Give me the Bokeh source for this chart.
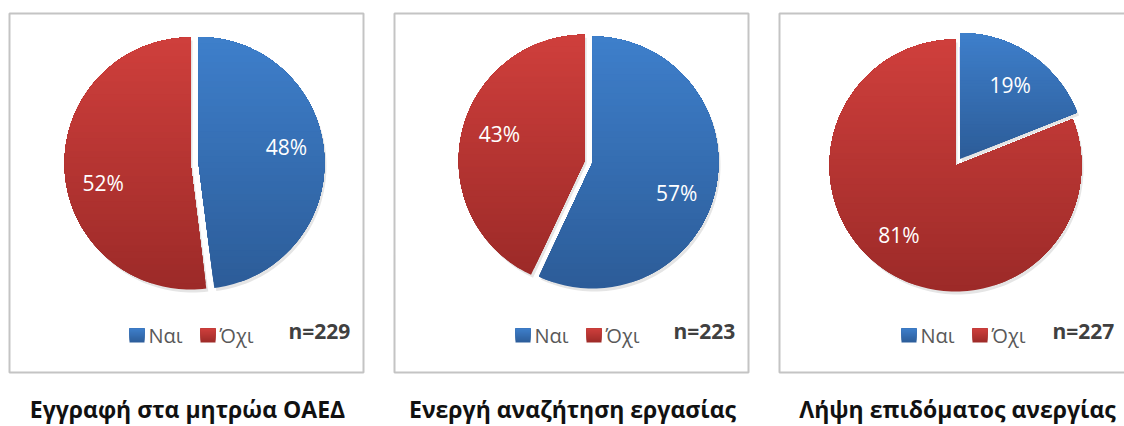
import math
from bokeh.plotting import figure
from bokeh.models import Range1d
from bokeh.core.properties import value
from bokeh.embed import file_html
from bokeh.resources import INLINE

# ---------------- data ----------------
titles = ["Εγγραφή στα μητρώα ΟΑΕΔ", "Ενεργή αναζήτηση εργασίας", "Λήψη επιδόματος ανεργίας"]
categories = ["Ναι", "Όχι"]
yes_pct = [48, 57, 19]
no_pct = [52, 43, 81]
n_values = [229, 223, 227]

# ---------------- layout / style ----------------
W, H = 1124, 426
OX, OY = 0, 426          # screen -> data conversion
def X(sx): return sx - OX
def Y(sy): return OY - sy

FONT = value("Open Sans")
top_cols = [(62, 127, 203), (207, 63, 60)]
bot_cols = [(44, 92, 152), (156, 42, 40)]
panels = [
    dict(left=8, cx=190, cy=163, explode=0, leg=129, nx=288, turn=[-7, -9]),
    dict(left=393, cx=592, cy=162, explode=1, leg=515, nx=673, turn=[7, 5]),
    dict(left=778, cx=955, cy=165, explode=0, leg=901, nx=1052, turn=[0, 5]),
]
R = 126
EXPLODE = 8

p = figure(width=W, height=H, x_range=Range1d(0, W), y_range=Range1d(0, H),
           output_backend="svg", toolbar_location=None, min_border=0,
           x_axis_location=None, y_axis_location=None)
p.grid.visible = False
p.outline_line_color = None
p.background_fill_color = "white"
p.border_fill_color = "white"


def clip_above(pts, t):
    """keep part of polygon (screen coords) with y <= t"""
    out = []
    n = len(pts)
    for i in range(n):
        a = pts[i]; b = pts[(i + 1) % n]
        ina = a[1] <= t; inb = b[1] <= t
        if ina:
            out.append(a)
        if ina != inb:
            f = (t - a[1]) / (b[1] - a[1])
            out.append((a[0] + f * (b[0] - a[0]), t))
    return out


def hexc(c):
    return "#%02x%02x%02x" % tuple(int(round(v)) for v in c)


def gradient(pts, topc, botc, nb=40):
    ys = [q[1] for q in pts]
    y0, y1 = min(ys), max(ys)
    h = (y1 - y0) / nb
    xs_l, ys_l, cols = [], [], []
    for k in range(nb):
        t = y1 - h * k
        poly = pts if k == 0 else clip_above(pts, t)
        if len(poly) < 3:
            continue
        f = (t - h / 2 - y0) / (y1 - y0)
        col = tuple(topc[i] + (botc[i] - topc[i]) * f for i in range(3))
        xs_l.append([X(q[0]) for q in poly])
        ys_l.append([Y(q[1]) for q in poly])
        cols.append(hexc(col))
    return xs_l, ys_l, cols


GX, GY, GC = [], [], []
SX, SY = [], []
lab_x, lab_y, lab_t = [], [], []

for i, pn in enumerate(panels):
    vals = [yes_pct[i], no_pct[i]]
    tot = sum(vals)
    cum = 0.0
    for j, v in enumerate(vals):
        t1 = 2 * math.pi * cum / tot
        t2 = 2 * math.pi * (cum + v) / tot
        cum += v
        tm = (t1 + t2) / 2
        cx, cy = pn["cx"], pn["cy"]
        if j == pn["explode"]:
            cx += EXPLODE * math.sin(tm)
            cy -= EXPLODE * math.cos(tm)
        npts = max(8, int(200 * (t2 - t1) / (2 * math.pi)))
        pts = [(cx, cy)]
        for k in range(npts + 1):
            th = t1 + (t2 - t1) * k / npts
            pts.append((cx + R * math.sin(th), cy - R * math.cos(th)))
        # shadow
        SX.append([X(q[0] + 2) for q in pts])
        SY.append([Y(q[1] + 3) for q in pts])
        gx, gy, gc = gradient(pts, top_cols[j], bot_cols[j])
        GX += gx; GY += gy; GC += gc
        ta = tm + math.radians(pn["turn"][j])
        lab_x.append(X(cx + 0.71 * R * math.sin(ta)))
        lab_y.append(Y(cy - 0.71 * R * math.cos(ta)))
        lab_t.append(f"{v}%")

    # legend squares
    for j in range(2):
        lx = pn["leg"] + 71 * j
        sq = [(lx, 328), (lx + 15, 328), (lx + 15, 342), (lx, 342)]
        gx, gy, gc = gradient(sq, top_cols[j], bot_cols[j], nb=7)
        GX += gx; GY += gy; GC += gc

# frames
p.quad(left=[X(pn["left"] + 1) for pn in panels],
       right=[X(pn["left"] + 355) for pn in panels],
       top=[Y(13)] * 3, bottom=[Y(372)] * 3,
       fill_color=None, line_color="#c4c4c4", line_width=2)

p.patches(SX, SY, fill_color="black", fill_alpha=0.10, line_color=None)
p.patches(GX, GY, fill_color=GC, line_color=None)

p.text(x=lab_x, y=lab_y, text=lab_t, text_font=FONT, text_font_size="21px",
       text_color="white", text_align="center", text_baseline="middle")

# legend texts
lx, ly, lt = [], [], []
for pn in panels:
    for j, c in enumerate(categories):
        lx.append(X(pn["leg"] + 71 * j + 19))
        ly.append(Y(335))
        lt.append(c)
p.text(x=lx, y=ly, text=lt, text_font=FONT, text_font_size="20px",
       text_color="#595959", text_align="left", text_baseline="middle")

# n labels
p.text(x=[X(pn["nx"]) for pn in panels], y=[Y(330)] * 3,
       text=[f"n={n}" for n in n_values], text_font=FONT, text_font_size="21px",
       text_font_style="bold", text_color="#404040", text_align="left",
       text_baseline="middle")

# titles
p.text(x=[X(pn["left"] + 179) for pn in panels], y=[Y(408)] * 3, text=titles,
       text_font=FONT, text_font_size="23px", text_font_style="bold",
       text_color="#111111", text_align="center", text_baseline="middle")

open("out.html", "w").write(file_html(p, INLINE))
